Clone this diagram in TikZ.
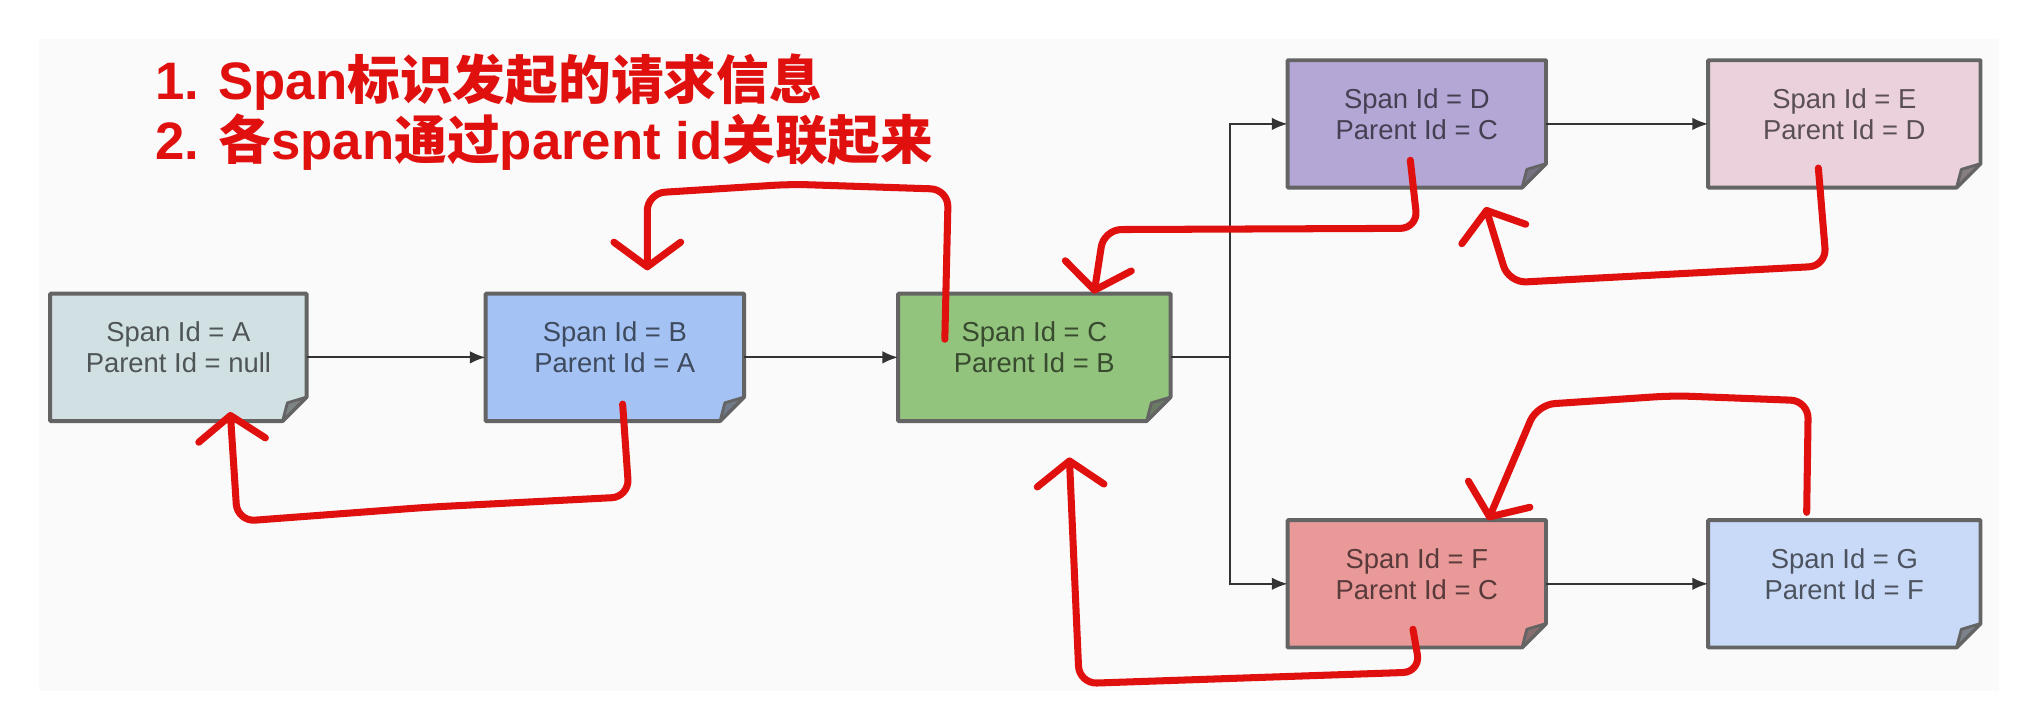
\documentclass[tikz,border=0pt]{standalone}
\usepackage{fontspec}
\usepackage{tikz}
\usetikzlibrary{arrows.meta, positioning, backgrounds, calc}

\newfontfamily\boxfontfam{Liberation Sans}
\newfontfamily\headlatin{Liberation Sans}
\newfontfamily\headcjk{Noto Sans CJK SC}
\newcommand{\boxfont}{\boxfontfam\fontsize{7.8}{8.8}\selectfont}
\newcommand{\headfont}{\fontsize{15}{16}\selectfont\bfseries}
\newcommand{\foldsize}{0.24cm}

\definecolor{spanA}{HTML}{D0E0E3}
\definecolor{spanB}{HTML}{A4C2F4}
\definecolor{spanC}{HTML}{93C47D}
\definecolor{spanD}{HTML}{B4A7D6}
\definecolor{spanE}{HTML}{EAD1DC}
\definecolor{spanF}{HTML}{EA9999}
\definecolor{spanG}{HTML}{C9DAF8}
\definecolor{edgegray}{HTML}{646464}
\definecolor{penred}{HTML}{E0100F}

\begin{document}
\begin{tikzpicture}[
    x=0.012972cm, y=-0.012972cm,
    spannote/.style={minimum width=2.57cm, minimum height=1.26cm, inner sep=0pt, align=center,
      font=\boxfont, text=#1!38!black, text height=14.4pt, text depth=5.6pt},
    wide/.style={minimum width=2.71cm},
    link/.style={-{Latex[length=4.5pt, width=3.6pt]}, draw=black!80, line width=0.6pt},
    wire/.style={draw=black!80, line width=0.6pt},
    trace/.style={draw=penred, line width=2pt, line cap=round, line join=round, rounded corners=5pt,
      -{Straight Barb[length=7pt, width=19pt, round]}},
    headline/.style={align=left, inner sep=0pt, text=penred, font=\headfont}
]
  \useasboundingbox (0,0) rectangle (1568,550);

  \node[spannote=spanA, minimum width=2.55cm] (a) at (137.5,275.5) {Span Id = A\\Parent Id = null};
  \node[spannote=spanB, right=1.79cm of a] (b) {Span Id = B\\Parent Id = A};
  \node[spannote=spanC, wide, right=1.54cm of b] (c) {Span Id = C\\Parent Id = B};
  \node[spannote=spanD, above right=1.06cm and 1.17cm of c] (d) {Span Id = D\\Parent Id = C};
  \node[spannote=spanE, wide, right=1.62cm of d] (e) {Span Id = E\\Parent Id = D};
  \node[spannote=spanF, below right=0.99cm and 1.17cm of c] (f) {Span Id = F\\Parent Id = C};
  \node[spannote=spanG, wide, right=1.62cm of f] (g) {Span Id = G\\Parent Id = F};

  \node[headline, anchor=north west] (title) at (119,41)
    {{\headlatin 1. Span}{\headcjk 标识发起的请求信息}\\
     {\headlatin 2. }{\headcjk 各}{\headlatin span}{\headcjk 通过}{\headlatin parent id}{\headcjk 关联起来}};

  \begin{scope}[on background layer]
    \fill[black!2] (30,30) rectangle (1541,533);
    \foreach \n/\c in {a/spanA, b/spanB, c/spanC, d/spanD, e/spanE, f/spanF, g/spanG} {
      \filldraw[fill=\c, draw=edgegray, line width=1.1pt, line join=round]
        (\n.north west) -- (\n.north east) -- ([yshift=\foldsize]\n.south east)
        -- ([xshift=-\foldsize]\n.south east) -- (\n.south west) -- cycle;
      \filldraw[fill=\c!40!black!75, draw=edgegray, line width=0.8pt, line join=round]
        ([yshift=\foldsize]\n.south east) -- ([xshift=-\foldsize]\n.south east)
        -- ([xshift=-0.8*\foldsize, yshift=0.76*\foldsize]\n.south east) -- cycle;
    }
  \end{scope}

  \coordinate (fork) at ($(c.east)+(46,0)$);
  \draw[link] (a) -- (b);
  \draw[link] (b) -- (c);
  \draw[wire] (c.east) -- (fork);
  \draw[link] (fork) |- (d);
  \draw[link] (fork) |- (f);
  \draw[link] (d) -- (e);
  \draw[link] (f) -- (g);

  \draw[trace] ($(b)+(6,36)$) -- (485,383) -- (330,391) -- (183,402) -- ($(a.south)+(40,-7)$);
  \draw[trace] ($(c)+(-69,-14)$) -- (731,146) -- (610,142) -- (499,149) -- ($(b.north)+(25,-18)$);
  \draw[trace] ($(d)+(-5,28)$) -- (1093,176) -- (851,177) -- ($(c.north)+(46,0)$);
  \draw[trace] ($(e)+(-20,34)$) -- (1408,205) -- (1163,218) -- ($(d.south)+(53,15)$);
  \draw[trace] ($(f)+(-3,35)$) -- (1095,518) -- (832,527) -- ($(c.south)+(27,28)$);
  \draw[trace] ($(g.north)+(-29,-6)$) -- (1394,309) -- (1290,305) -- (1185,312) -- ($(f.north)+(55,0)$);
\end{tikzpicture}
\end{document}
